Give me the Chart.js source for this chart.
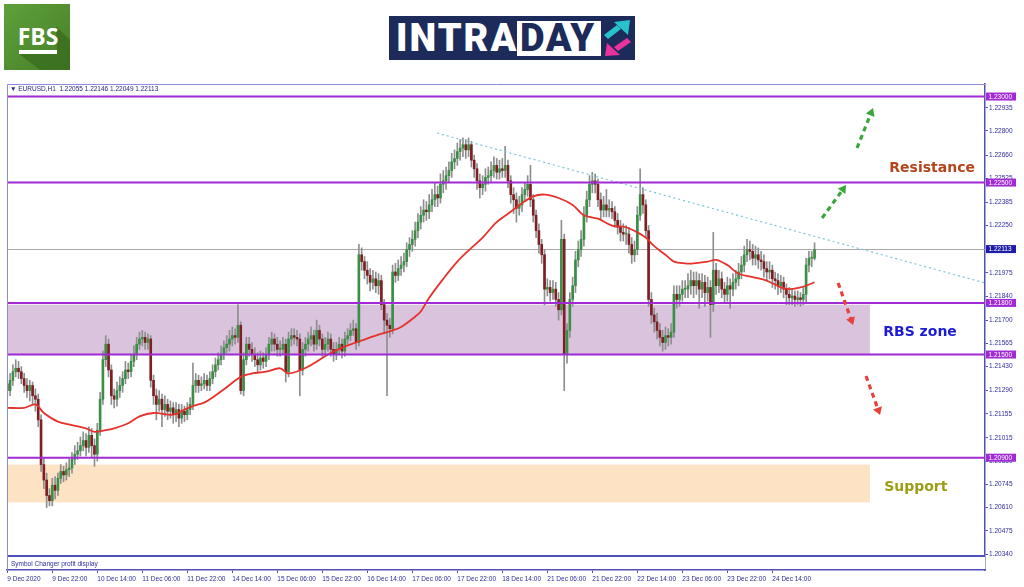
<!DOCTYPE html>
<html><head><meta charset="utf-8">
<script src="https://cdn.jsdelivr.net/npm/chart.js@4.4.0/dist/chart.umd.min.js"></script>
<style>
html,body{margin:0;padding:0;background:#fff;width:1024px;height:587px;overflow:hidden;}
#wrap{position:relative;width:1024px;height:587px;}
#c{position:absolute;left:0;top:0;}
#fbs{position:absolute;left:4px;top:4px;width:66px;height:66px;}
#intra{position:absolute;left:389px;top:16px;width:246px;height:44px;background:#1c2b5a;overflow:hidden;}
#intra .w{position:absolute;left:7px;top:0;line-height:45px;font:900 38px Roboto,'Liberation Sans',sans-serif;color:#fff;letter-spacing:2px;}
#intra .box{position:absolute;left:128px;top:5px;width:84px;height:35px;background:#fff;}
#intra .d{position:absolute;left:131px;top:0;line-height:45px;font:900 38px Roboto,'Liberation Sans',sans-serif;color:#1c2b5a;letter-spacing:1.5px;}
#intra svg{position:absolute;left:213px;top:2px;}
</style>
</head><body>
<div id="wrap">
<canvas id="c" width="1024" height="587" style="width:1024px;height:587px"></canvas>
<svg id="fbs" width="66" height="66" viewBox="0 0 66 66">
  <defs><linearGradient id="g" x1="0" y1="0" x2="1" y2="1"><stop offset="0" stop-color="#5fa03b"/><stop offset="1" stop-color="#467f28"/></linearGradient></defs>
  <rect width="66" height="66" fill="url(#g)"/>
  <polygon points="52,22 66,36 66,66 36,66 15,50 53,46" fill="#3b6e20" opacity="0.85"/>
  <text x="34" y="41" text-anchor="middle" font-family="'Open Sans','Liberation Sans',sans-serif" font-weight="700" font-size="23" fill="#fff">FBS</text>
  <rect x="15" y="46" width="38" height="4" fill="#fff"/>
</svg>
<div id="intra">
  <span class="w">INTRA</span>
  <div class="box"></div>
  <span class="d">DAY</span>
  <svg width="32" height="42" viewBox="0 0 32 42">
    <polygon points="2,17 6,21 19,11 15,7" fill="#27c2cc"/>
    <polygon points="28,2 12,4 26,17" fill="#27c2cc"/>
    <polygon points="12,29 16,33 29,24 25,20" fill="#e8339c"/>
    <polygon points="3,38 18,37 5,25" fill="#e8339c"/>
  </svg>
</div>
</div>
<script>
// ---------------- data ----------------
const xTickBars = [0,16,32,48,64,80,96,112,128,144,160,176,192,208,224,240,256,272];
const xTickLabels = ["9 Dec 2020","9 Dec 22:00","10 Dec 14:00","11 Dec 06:00","11 Dec 22:00","14 Dec 14:00","15 Dec 06:00","15 Dec 22:00","16 Dec 14:00","17 Dec 06:00","17 Dec 22:00","18 Dec 14:00","21 Dec 06:00","21 Dec 22:00","22 Dec 14:00","23 Dec 06:00","23 Dec 22:00","24 Dec 14:00"];
const yTicks = [1.22935,1.22800,1.22660,1.22525,1.22385,1.22250,1.21975,1.21840,1.21700,1.21565,1.21430,1.21290,1.21155,1.21015,1.20880,1.20745,1.20610,1.20475,1.20340];

const opens = [
1.2133,1.2129,1.2135,1.2140,1.2142,1.2140,1.2136,1.2132,1.2129,1.2132,
1.2126,1.2124,1.2112,1.2086,1.2077,1.2068,1.2065,1.2074,1.2071,1.2078,
1.2082,1.2080,1.2083,1.2084,1.2089,1.2092,1.2094,1.2097,1.2100,1.2096,
1.2103,1.2097,1.2092,1.2106,1.2124,1.2147,1.2156,1.2141,1.2126,1.2124,
1.2129,1.2132,1.2136,1.2141,1.2140,1.2146,1.2150,1.2156,1.2159,1.2160,
1.2157,1.2159,1.2135,1.2126,1.2121,1.2124,1.2118,1.2121,1.2117,1.2119,
1.2115,1.2118,1.2113,1.2117,1.2115,1.2118,1.2121,1.2132,1.2135,1.2132,
1.2133,1.2135,1.2132,1.2136,1.2140,1.2144,1.2147,1.2150,1.2154,1.2156,
1.2159,1.2161,1.2160,1.2167,1.2129,1.2147,1.2156,1.2153,1.2150,1.2147,
1.2144,1.2148,1.2146,1.2150,1.2156,1.2159,1.2156,1.2153,1.2153,1.2156,
1.2140,1.2159,1.2161,1.2160,1.2159,1.2141,1.2153,1.2156,1.2159,1.2161,
1.2156,1.2164,1.2159,1.2153,1.2156,1.2159,1.2153,1.2150,1.2153,1.2156,
1.2152,1.2159,1.2161,1.2164,1.2165,1.2157,1.2208,1.2204,1.2199,1.2196,
1.2192,1.2194,1.2190,1.2193,1.2179,1.2170,1.2167,1.2165,1.2198,1.2196,
1.2200,1.2202,1.2204,1.2211,1.2214,1.2217,1.2222,1.2227,1.2231,1.2234,
1.2233,1.2237,1.2240,1.2243,1.2241,1.2249,1.2251,1.2254,1.2257,1.2262,
1.2264,1.2268,1.2270,1.2272,1.2269,1.2272,1.2263,1.2258,1.2251,1.2247,
1.2249,1.2253,1.2254,1.2257,1.2260,1.2256,1.2258,1.2257,1.2260,1.2251,
1.2243,1.2240,1.2235,1.2237,1.2243,1.2246,1.2249,1.2240,1.2231,1.2222,
1.2214,1.2208,1.2188,1.2189,1.2186,1.2188,1.2182,1.2176,1.2217,1.2150,
1.2164,1.2182,1.2190,1.2205,1.2211,1.2217,1.2231,1.2240,1.2249,1.2251,
1.2249,1.2240,1.2234,1.2237,1.2234,1.2235,1.2233,1.2228,1.2224,1.2221,
1.2220,1.2220,1.2214,1.2208,1.2211,1.2231,1.2243,1.2237,1.2222,1.2182,
1.2173,1.2169,1.2164,1.2160,1.2157,1.2161,1.2160,1.2163,1.2185,1.2182,
1.2185,1.2188,1.2188,1.2190,1.2193,1.2190,1.2193,1.2188,1.2192,1.2186,
1.2189,1.2179,1.2199,1.2190,1.2194,1.2188,1.2185,1.2190,1.2188,1.2192,
1.2194,1.2198,1.2202,1.2208,1.2211,1.2210,1.2206,1.2208,1.2205,1.2204,
1.2200,1.2198,1.2199,1.2194,1.2193,1.2190,1.2192,1.2188,1.2185,1.2183,
1.2184,1.2182,1.2183,1.2182,1.2185,1.2202,1.2206,1.2206];

const highs = [
1.2138,1.2139,1.2144,1.2147,1.2146,1.2143,1.2139,1.2136,1.2135,1.2134,
1.2130,1.2127,1.2115,1.2090,1.2081,1.2072,1.2078,1.2079,1.2081,1.2086,
1.2085,1.2087,1.2089,1.2093,1.2097,1.2099,1.2102,1.2105,1.2104,1.2108,
1.2107,1.2101,1.2110,1.2128,1.2152,1.2161,1.2159,1.2144,1.2130,1.2134,
1.2137,1.2140,1.2146,1.2145,1.2150,1.2155,1.2160,1.2163,1.2164,1.2163,
1.2162,1.2161,1.2138,1.2130,1.2129,1.2127,1.2126,1.2124,1.2123,1.2122,
1.2122,1.2121,1.2121,1.2120,1.2122,1.2125,1.2145,1.2139,1.2138,1.2137,
1.2139,1.2138,1.2140,1.2144,1.2148,1.2151,1.2155,1.2158,1.2161,1.2164,
1.2166,1.2165,1.2179,1.2169,1.2151,1.2160,1.2160,1.2157,1.2154,1.2151,
1.2152,1.2151,1.2154,1.2160,1.2163,1.2162,1.2160,1.2158,1.2160,1.2159,
1.2163,1.2165,1.2165,1.2164,1.2162,1.2157,1.2160,1.2163,1.2166,1.2164,
1.2170,1.2167,1.2162,1.2160,1.2163,1.2162,1.2157,1.2157,1.2160,1.2159,
1.2163,1.2165,1.2168,1.2170,1.2168,1.2214,1.2212,1.2207,1.2204,1.2200,
1.2199,1.2198,1.2197,1.2196,1.2182,1.2174,1.2171,1.2202,1.2203,1.2205,
1.2207,1.2209,1.2215,1.2218,1.2222,1.2227,1.2232,1.2236,1.2240,1.2239,
1.2243,1.2246,1.2250,1.2248,1.2255,1.2257,1.2259,1.2262,1.2267,1.2269,
1.2273,1.2275,1.2276,1.2275,1.2276,1.2274,1.2266,1.2261,1.2255,1.2254,
1.2258,1.2259,1.2262,1.2265,1.2264,1.2263,1.2264,1.2271,1.2263,1.2254,
1.2247,1.2244,1.2242,1.2247,1.2250,1.2254,1.2260,1.2243,1.2234,1.2226,
1.2217,1.2211,1.2194,1.2193,1.2193,1.2192,1.2186,1.2228,1.2220,1.2168,
1.2186,1.2195,1.2210,1.2216,1.2222,1.2236,1.2245,1.2254,1.2256,1.2255,
1.2252,1.2244,1.2242,1.2246,1.2240,1.2239,1.2236,1.2232,1.2228,1.2226,
1.2225,1.2224,1.2218,1.2216,1.2236,1.2258,1.2247,1.2240,1.2225,1.2186,
1.2177,1.2174,1.2168,1.2164,1.2166,1.2165,1.2168,1.2190,1.2190,1.2190,
1.2193,1.2193,1.2197,1.2199,1.2198,1.2198,1.2197,1.2197,1.2196,1.2195,
1.2193,1.2221,1.2203,1.2199,1.2198,1.2192,1.2195,1.2194,1.2197,1.2199,
1.2203,1.2207,1.2213,1.2217,1.2216,1.2214,1.2213,1.2212,1.2210,1.2208,
1.2204,1.2204,1.2202,1.2198,1.2197,1.2196,1.2195,1.2191,1.2189,1.2188,
1.2187,1.2187,1.2186,1.2189,1.2206,1.2210,1.2210,1.2215];

const lows = [
1.2125,1.2126,1.2132,1.2137,1.2136,1.2133,1.2128,1.2125,1.2123,1.2121,
1.2117,1.2108,1.2082,1.2072,1.2061,1.2062,1.2062,1.2066,1.2068,1.2075,
1.2076,1.2077,1.2079,1.2081,1.2086,1.2089,1.2091,1.2094,1.2091,1.2093,
1.2090,1.2085,1.2088,1.2103,1.2121,1.2143,1.2137,1.2121,1.2119,1.2120,
1.2125,1.2128,1.2133,1.2136,1.2137,1.2143,1.2147,1.2153,1.2155,1.2153,
1.2153,1.2131,1.2121,1.2112,1.2117,1.2108,1.2114,1.2112,1.2113,1.2110,
1.2111,1.2108,1.2110,1.2111,1.2112,1.2115,1.2118,1.2128,1.2128,1.2129,
1.2130,1.2129,1.2129,1.2133,1.2137,1.2141,1.2144,1.2147,1.2151,1.2152,
1.2155,1.2156,1.2157,1.2127,1.2126,1.2144,1.2149,1.2146,1.2143,1.2140,
1.2141,1.2142,1.2143,1.2147,1.2152,1.2152,1.2149,1.2149,1.2150,1.2134,
1.2137,1.2155,1.2156,1.2155,1.2126,1.2138,1.2149,1.2152,1.2155,1.2152,
1.2153,1.2155,1.2149,1.2150,1.2152,1.2149,1.2146,1.2147,1.2150,1.2148,
1.2149,1.2156,1.2158,1.2161,1.2153,1.2155,1.2199,1.2194,1.2191,1.2187,
1.2188,1.2186,1.2185,1.2176,1.2162,1.2126,1.2160,1.2162,1.2192,1.2193,
1.2196,1.2198,1.2201,1.2207,1.2210,1.2213,1.2218,1.2223,1.2227,1.2228,
1.2229,1.2233,1.2236,1.2236,1.2238,1.2244,1.2246,1.2250,1.2253,1.2258,
1.2260,1.2263,1.2265,1.2264,1.2265,1.2259,1.2253,1.2246,1.2241,1.2243,
1.2245,1.2249,1.2250,1.2253,1.2252,1.2252,1.2253,1.2253,1.2247,1.2238,
1.2232,1.2227,1.2231,1.2233,1.2239,1.2242,1.2236,1.2227,1.2218,1.2209,
1.2203,1.2179,1.2184,1.2181,1.2182,1.2178,1.2170,1.2173,1.2129,1.2145,
1.2160,1.2178,1.2186,1.2201,1.2207,1.2213,1.2227,1.2236,1.2244,1.2244,
1.2236,1.2229,1.2230,1.2230,1.2230,1.2229,1.2224,1.2220,1.2216,1.2216,
1.2214,1.2209,1.2203,1.2204,1.2208,1.2228,1.2232,1.2218,1.2178,1.2168,
1.2163,1.2159,1.2155,1.2152,1.2153,1.2155,1.2156,1.2160,1.2177,1.2178,
1.2181,1.2183,1.2183,1.2185,1.2183,1.2185,1.2177,1.2183,1.2178,1.2181,
1.2160,1.2175,1.2185,1.2186,1.2183,1.2180,1.2181,1.2177,1.2184,1.2188,
1.2190,1.2194,1.2198,1.2204,1.2205,1.2202,1.2202,1.2200,1.2199,1.2195,
1.2193,1.2194,1.2189,1.2188,1.2185,1.2186,1.2183,1.2179,1.2179,1.2179,
1.2178,1.2179,1.2178,1.2179,1.2180,1.2198,1.2201,1.2205];

const closes = [
1.2129,1.2135,1.2140,1.2142,1.2140,1.2136,1.2132,1.2129,1.2132,1.2126,
1.2124,1.2112,1.2086,1.2077,1.2068,1.2065,1.2074,1.2071,1.2078,1.2082,
1.2080,1.2083,1.2084,1.2089,1.2092,1.2094,1.2097,1.2100,1.2096,1.2103,
1.2097,1.2092,1.2106,1.2124,1.2147,1.2156,1.2141,1.2126,1.2124,1.2129,
1.2132,1.2136,1.2141,1.2140,1.2146,1.2150,1.2156,1.2159,1.2160,1.2157,
1.2159,1.2135,1.2126,1.2121,1.2124,1.2118,1.2121,1.2117,1.2119,1.2115,
1.2118,1.2113,1.2117,1.2115,1.2118,1.2121,1.2132,1.2135,1.2132,1.2133,
1.2135,1.2132,1.2136,1.2140,1.2144,1.2147,1.2150,1.2154,1.2156,1.2159,
1.2161,1.2160,1.2167,1.2129,1.2147,1.2156,1.2153,1.2150,1.2147,1.2144,
1.2148,1.2146,1.2150,1.2156,1.2159,1.2156,1.2153,1.2153,1.2156,1.2140,
1.2159,1.2161,1.2160,1.2159,1.2141,1.2153,1.2156,1.2159,1.2161,1.2156,
1.2164,1.2159,1.2153,1.2156,1.2159,1.2153,1.2150,1.2153,1.2156,1.2152,
1.2159,1.2161,1.2164,1.2165,1.2157,1.2208,1.2204,1.2199,1.2196,1.2192,
1.2194,1.2190,1.2193,1.2179,1.2170,1.2167,1.2165,1.2198,1.2196,1.2200,
1.2202,1.2204,1.2211,1.2214,1.2217,1.2222,1.2227,1.2231,1.2234,1.2233,
1.2237,1.2240,1.2243,1.2241,1.2249,1.2251,1.2254,1.2257,1.2262,1.2264,
1.2268,1.2270,1.2272,1.2269,1.2272,1.2263,1.2258,1.2251,1.2247,1.2249,
1.2253,1.2254,1.2257,1.2260,1.2256,1.2258,1.2257,1.2260,1.2251,1.2243,
1.2240,1.2235,1.2237,1.2243,1.2246,1.2249,1.2240,1.2231,1.2222,1.2214,
1.2208,1.2188,1.2189,1.2186,1.2188,1.2182,1.2176,1.2217,1.2150,1.2164,
1.2182,1.2190,1.2205,1.2211,1.2217,1.2231,1.2240,1.2249,1.2251,1.2249,
1.2240,1.2234,1.2237,1.2234,1.2235,1.2233,1.2228,1.2224,1.2221,1.2220,
1.2220,1.2214,1.2208,1.2211,1.2231,1.2243,1.2237,1.2222,1.2182,1.2173,
1.2169,1.2164,1.2160,1.2157,1.2161,1.2160,1.2163,1.2185,1.2182,1.2185,
1.2188,1.2188,1.2190,1.2193,1.2190,1.2193,1.2188,1.2192,1.2186,1.2189,
1.2179,1.2199,1.2190,1.2194,1.2188,1.2185,1.2190,1.2188,1.2192,1.2194,
1.2198,1.2202,1.2208,1.2211,1.2210,1.2206,1.2208,1.2205,1.2204,1.2200,
1.2198,1.2199,1.2194,1.2193,1.2190,1.2192,1.2188,1.2185,1.2183,1.2184,
1.2182,1.2183,1.2182,1.2185,1.2202,1.2206,1.2206,1.2211];

// moving average : bar index -> value
const maBars = [0,6,10,13,18,23,28,31,35,38,43,47,52,59,63,66,70,73,78,83,87,92,97,100,107,114,119,124,131,137,140,145,147,150,155,160,165,169,174,179,183,187,191,196,201,205,210,215,220,224,227,230,234,237,241,244,249,252,256,260,265,270,275,278,282,284,287];
const maValues = [1.2119,1.2119,1.2121,1.2116,1.2111,1.2109,1.2107,1.2105,1.2106,1.2107,1.2110,1.2114,1.2116,1.2115,1.2118,1.2120,1.2122,1.2125,1.2131,1.2137,1.2139,1.2140,1.2142,1.2139,1.2143,1.2150,1.2154,1.2157,1.2161,1.2164,1.2166,1.2172,1.2175,1.2183,1.2194,1.2204,1.2212,1.2218,1.2227,1.2233,1.2238,1.2242,1.2243,1.2241,1.2237,1.2231,1.2229,1.2225,1.2224,1.2221,1.2218,1.2213,1.2208,1.2204,1.2203,1.2203,1.2204,1.2205,1.2202,1.2197,1.2195,1.2193,1.2189,1.2188,1.2189,1.2190,1.2192];

// drawn objects
const levels = [1.2300, 1.2250, 1.2180, 1.2150, 1.2090];
const currentPrice = 1.22113;
const trendBars = [152.8, 347.6];
const trendValues = [1.22788, 1.21916];
const rbsZone = [1.2150, 1.2179];
const supportZone = [1.2064, 1.2086];
const zoneEndBar = 306.7;
const noteTexts = ["Resistance", "RBS zone", "Support"];
const noteBars = [328.8, 324.5, 323.0];
const noteValues = [1.22584, 1.21631, 1.20730];
const upArrowFrom = [[302.1, 1.22701], [289.7, 1.22294]];
const upArrowTo = [[307.8, 1.22933], [298.2, 1.22485]];
const downArrowFrom = [[295.4, 1.21916], [305.3, 1.21375]];
const downArrowTo = [[300.7, 1.21671], [310.3, 1.21148]];
const headerText = "\u25BC EURUSD,H1  1.22055 1.22146 1.22049 1.22113";

// ---------------- styles ----------------
const FONT = "'Liberation Sans', Arial, sans-serif";
const AXIS_TXT = '#2d2d9c';
const FRAME = '#5050b8';
const LEVEL = '#a02bd4';
const BULL = '#3a8f45';
const BEAR = '#7e1f23';
const WICK = '#8e8e8e';

function drawArrow(ctx, x0, y0, x1, y1, color) {
  const ang = Math.atan2(y1 - y0, x1 - x0);
  const head = 9;
  ctx.save();
  ctx.strokeStyle = color; ctx.lineWidth = 3.2; ctx.setLineDash([5, 4]);
  ctx.beginPath(); ctx.moveTo(x0, y0);
  ctx.lineTo(x1 - Math.cos(ang) * head * 0.7, y1 - Math.sin(ang) * head * 0.7); ctx.stroke();
  ctx.setLineDash([]);
  ctx.fillStyle = color; ctx.beginPath(); ctx.moveTo(x1, y1);
  ctx.lineTo(x1 - head * Math.cos(ang - 0.55), y1 - head * Math.sin(ang - 0.55));
  ctx.lineTo(x1 - head * Math.cos(ang + 0.55), y1 - head * Math.sin(ang + 0.55));
  ctx.closePath(); ctx.fill();
  ctx.restore();
}

const overlay = {
  id: 'overlay',
  beforeDatasetsDraw(chart) {
    const { ctx, chartArea: a, scales: { x, y } } = chart;
    ctx.save();
    const xe = x.getPixelForValue(zoneEndBar);
    ctx.fillStyle = '#d9c3dd';
    let t = y.getPixelForValue(rbsZone[1]), b = y.getPixelForValue(rbsZone[0]);
    ctx.fillRect(a.left, t, xe - a.left, b - t);
    ctx.fillStyle = '#fde2c4';
    t = y.getPixelForValue(supportZone[1]); b = y.getPixelForValue(supportZone[0]);
    ctx.fillRect(a.left, t, xe - a.left, b - t);
    // current price line
    const cp = Math.round(y.getPixelForValue(currentPrice)) + 0.5;
    ctx.strokeStyle = '#a9a9a9'; ctx.lineWidth = 1;
    ctx.beginPath(); ctx.moveTo(a.left, cp); ctx.lineTo(a.right, cp); ctx.stroke();
    ctx.restore();
  },
  afterDatasetsDraw(chart) {
    const { ctx, chartArea: a, scales: { x, y } } = chart;
    ctx.save();
    ctx.strokeStyle = LEVEL; ctx.lineWidth = 2;
    levels.forEach(v => {
      const py = y.getPixelForValue(v);
      ctx.beginPath(); ctx.moveTo(a.left, py); ctx.lineTo(a.right, py); ctx.stroke();
    });
    // notes
    ctx.font = "bold 14px 'DejaVu Sans', sans-serif";
    ctx.textAlign = 'center'; ctx.textBaseline = 'middle';
    const noteColors = ['#b4441c', '#1c1cd0', '#9c9c16'];
    noteTexts.forEach((s, i) => {
      ctx.fillStyle = noteColors[i];
      ctx.fillText(s, x.getPixelForValue(noteBars[i]), y.getPixelForValue(noteValues[i]));
    });
    upArrowFrom.forEach((p, i) => drawArrow(ctx, x.getPixelForValue(p[0]), y.getPixelForValue(p[1]),
      x.getPixelForValue(upArrowTo[i][0]), y.getPixelForValue(upArrowTo[i][1]), '#3aa53a'));
    downArrowFrom.forEach((p, i) => drawArrow(ctx, x.getPixelForValue(p[0]), y.getPixelForValue(p[1]),
      x.getPixelForValue(downArrowTo[i][0]), y.getPixelForValue(downArrowTo[i][1]), '#e8413a'));
    ctx.restore();
  },
  afterDraw(chart) {
    const { ctx, chartArea: a, scales: { y } } = chart;
    ctx.save();
    // sub-window strip
    const sep = a.bottom - 14;
    ctx.fillStyle = '#fff';
    ctx.fillRect(a.left + 1, sep, a.right - a.left - 1, a.bottom - sep - 1);
    ctx.strokeStyle = FRAME; ctx.lineWidth = 2;
    ctx.beginPath(); ctx.moveTo(a.left, sep); ctx.lineTo(a.right, sep); ctx.stroke();
    ctx.font = '6.5px ' + FONT; ctx.fillStyle = AXIS_TXT; ctx.textBaseline = 'middle'; ctx.textAlign = 'left';
    ctx.fillText('Symbol Changer profit display', a.left + 4, sep + 8);
    // frame
    ctx.strokeStyle = '#8a8ad6'; ctx.lineWidth = 1;
    ctx.beginPath(); ctx.moveTo(a.left + 0.5, a.bottom); ctx.lineTo(a.left + 0.5, a.top + 0.5); ctx.lineTo(a.right, a.top + 0.5); ctx.stroke();
    // header
    ctx.fillStyle = '#26267e'; ctx.font = '6.5px ' + FONT;
    ctx.fillText(headerText, a.left + 3, a.top + 5);
    // price boxes
    ctx.textAlign = 'left';
    const box = (v, color) => {
      const py = y.getPixelForValue(v);
      ctx.fillStyle = color;
      ctx.fillRect(a.right + 1, py - 4, 30, 8);
      ctx.fillStyle = '#fff';
      ctx.fillText(v.toFixed(5), a.right + 3.5, py + 0.5);
    };
    levels.forEach(v => box(v, LEVEL));
    box(currentPrice, '#1d1da6');
    ctx.restore();
  }
};

const bodyData = opens.map((o, i) => ({ x: i, y: [o, closes[i]] }));
const wickData = highs.map((h, i) => ({ x: i, y: [lows[i], h] }));
const bodyColors = opens.map((o, i) => closes[i] >= o ? BULL : BEAR);
const maData = maBars.map((b, i) => ({ x: b, y: maValues[i] }));
const trendData = trendBars.map((b, i) => ({ x: b, y: trendValues[i] }));

new Chart(document.getElementById('c'), {
  data: {
    datasets: [
      { type: 'line', data: maData, borderColor: '#e5322b', borderWidth: 1.8, pointRadius: 0, tension: 0.35, order: 0 },
      { type: 'line', data: trendData, borderColor: '#78c6d8', borderWidth: 1.2, borderDash: [2, 3], pointRadius: 0, order: 1 },
      { type: 'bar', data: bodyData, backgroundColor: bodyColors, barThickness: 2, minBarLength: 1, grouped: false, order: 2 },
      { type: 'bar', data: wickData, backgroundColor: WICK, barThickness: 1, grouped: false, order: 3 }
    ]
  },
  options: {
    responsive: false, animation: false, devicePixelRatio: 1, events: [],
    layout: { padding: { left: 7, top: 84, right: 0, bottom: 0 } },
    plugins: { legend: { display: false }, tooltip: { enabled: false } },
    scales: {
      x: {
        type: 'linear', position: 'bottom', min: -0.1, max: 347.6, offset: false,
        afterBuildTicks: s => { s.ticks = xTickBars.map(v => ({ value: v })); },
        afterFit: s => { s.height = 17; },
        ticks: { autoSkip: false, maxRotation: 0, minRotation: 0, align: 'start', padding: 2,
          font: { size: 6.5, family: FONT }, color: AXIS_TXT,
          callback: (v, i) => xTickLabels[i] },
        grid: { offset: false, drawOnChartArea: false, drawTicks: true, tickLength: 3, color: FRAME, tickColor: FRAME },
        border: { display: true, color: FRAME, width: 1.5 }
      },
      y: {
        type: 'linear', position: 'right', min: 1.20247, max: 1.23073,
        afterBuildTicks: s => { s.ticks = yTicks.map(v => ({ value: v })); },
        afterFit: s => { s.width = 39; },
        ticks: { autoSkip: false, padding: 1, font: { size: 6.5, family: FONT }, color: AXIS_TXT,
          callback: v => Number(v).toFixed(5) },
        grid: { drawOnChartArea: false, drawTicks: true, tickLength: 3, color: FRAME, tickColor: FRAME },
        border: { display: true, color: FRAME, width: 1.5 }
      }
    }
  },
  plugins: [overlay]
});
</script>
</body></html>
